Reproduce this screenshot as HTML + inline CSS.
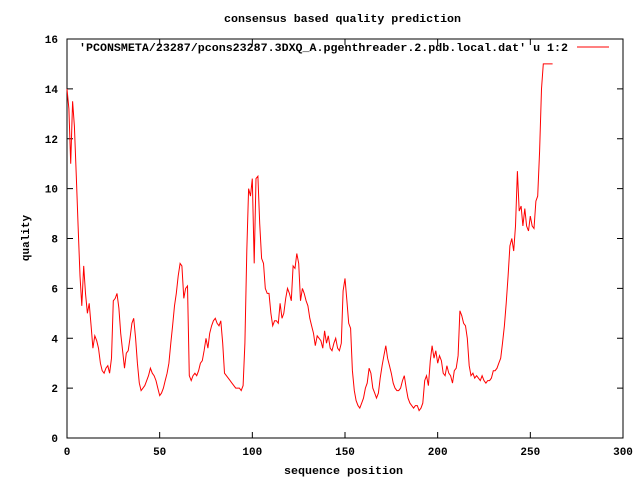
<!DOCTYPE html>
<html><head><meta charset="utf-8"><style>
html,body{margin:0;padding:0;background:#fff;}
svg text{font-family:"Liberation Mono","DejaVu Sans Mono",monospace;font-size:11px;font-weight:bold;fill:#000;}
</style></head><body>
<svg id="chart" width="640" height="480" xmlns="http://www.w3.org/2000/svg">
<rect width="640" height="480" fill="#fff"/>
<text x="224" y="22" textLength="237" lengthAdjust="spacingAndGlyphs">consensus based quality prediction</text>
<text x="284" y="474" textLength="119" lengthAdjust="spacingAndGlyphs">sequence position</text>
<text transform="translate(29,238) rotate(-90)" text-anchor="middle">quality</text>
<rect x="67" y="39" width="556" height="399" fill="none" stroke="#000" stroke-width="1"/>
<g id="axes"></g>
<text x="79" y="51" textLength="489" lengthAdjust="spacingAndGlyphs">'PCONSMETA/23287/pcons23287.3DXQ_A.pgenthreader.2.pdb.local.dat' u 1:2</text>
<line x1="577" y1="47" x2="609" y2="47" stroke="#f00" stroke-width="1"/>
<polyline id="series" fill="none" stroke="#f00" stroke-width="1"/>
</svg>
<script>
const xTicks=[0,50,100,150,200,250,300];
const yTicks=[0,2,4,6,8,10,12,14,16];
const quality=[14,13.2,11,13.5,12.5,10.5,8.5,6.5,5.3,6.9,5.8,5,5.4,4.5,3.6,4.1,3.9,3.6,3.0,2.7,2.6,2.8,2.9,2.6,3.2,5.5,5.6,5.8,5.2,4.2,3.5,2.8,3.4,3.5,4.0,4.6,4.8,4.0,3.0,2.2,1.9,2.0,2.1,2.3,2.5,2.8,2.6,2.5,2.3,2.0,1.7,1.8,2.0,2.3,2.6,3.0,3.8,4.5,5.3,5.8,6.5,7.0,6.9,5.6,6.0,6.1,2.5,2.3,2.5,2.6,2.5,2.7,3.0,3.1,3.5,4.0,3.6,4.2,4.5,4.7,4.8,4.6,4.5,4.7,3.8,2.6,2.5,2.4,2.3,2.2,2.1,2.0,2.0,2.0,1.9,2.1,3.8,7.5,10,9.7,10.4,7.0,10.4,10.5,8.6,7.2,7.0,6.0,5.8,5.8,5.0,4.5,4.7,4.7,4.6,5.4,4.8,5.0,5.6,6.0,5.8,5.5,6.9,6.8,7.4,7.0,5.5,6.0,5.8,5.5,5.3,4.8,4.5,4.2,3.7,4.1,4.0,3.9,3.6,4.3,3.8,4.1,3.6,3.5,3.8,4.0,3.6,3.5,3.8,5.9,6.4,5.5,4.6,4.4,2.7,1.9,1.5,1.3,1.2,1.4,1.6,2.0,2.2,2.8,2.6,2.0,1.8,1.6,1.8,2.4,2.9,3.3,3.7,3.2,2.9,2.6,2.2,2.0,1.9,1.9,2.0,2.3,2.5,2.0,1.6,1.4,1.3,1.2,1.3,1.3,1.1,1.2,1.4,2.3,2.5,2.1,3.1,3.7,3.2,3.5,3.0,3.3,3.1,2.6,2.5,2.9,2.6,2.5,2.2,2.7,2.8,3.3,5.1,4.9,4.6,4.5,4.0,2.9,2.5,2.6,2.4,2.5,2.4,2.3,2.5,2.3,2.2,2.3,2.3,2.4,2.7,2.7,2.8,3.0,3.2,3.8,4.5,5.4,6.5,7.7,8.0,7.5,8.5,10.7,9.1,9.3,8.5,9.2,8.5,8.3,8.9,8.5,8.4,9.5,9.7,11.5,14.0,15,15,15,15,15,15];
const X0=67,X1=623,Y0=438,Y1=39;
const xs=v=>X0+(v-0)/300*(X1-X0);
const ys=v=>Y0-(v-0)/16*(Y0-Y1);
const NS="http://www.w3.org/2000/svg";
const g=document.getElementById('axes');
function mk(t,a){const e=document.createElementNS(NS,t);for(const k in a)e.setAttribute(k,a[k]);return e;}
xTicks.forEach(t=>{
 const x=xs(t);
 const l1=mk('line',{x1:x,y1:Y0,x2:x,y2:Y0-6,stroke:'#000'});
 
 
 g.appendChild(l1);
 const l2=mk('line',{x1:x,y1:Y1,x2:x,y2:Y1+6,stroke:'#000'});
 
 
 g.appendChild(l2);
 const tx=mk('text',{x:x,y:Y0+17,'text-anchor':'middle'});
 
 
 tx.textContent=t;g.appendChild(tx);
});
yTicks.forEach(t=>{
 const y=ys(t);
 const l1=mk('line',{x1:X0,y1:y,x2:X0+6,y2:y,stroke:'#000'});
 
 
 g.appendChild(l1);
 const l2=mk('line',{x1:X1,y1:y,x2:X1-6,y2:y,stroke:'#000'});
 
 
 g.appendChild(l2);
 const tx=mk('text',{x:X0-9,y:y+4,'text-anchor':'end'});
 
 
 tx.textContent=t;g.appendChild(tx);
});
document.getElementById('series').setAttribute('points',quality.map((v,i)=>xs(i).toFixed(1)+','+ys(v).toFixed(1)).join(' '));
</script>
</body></html>
